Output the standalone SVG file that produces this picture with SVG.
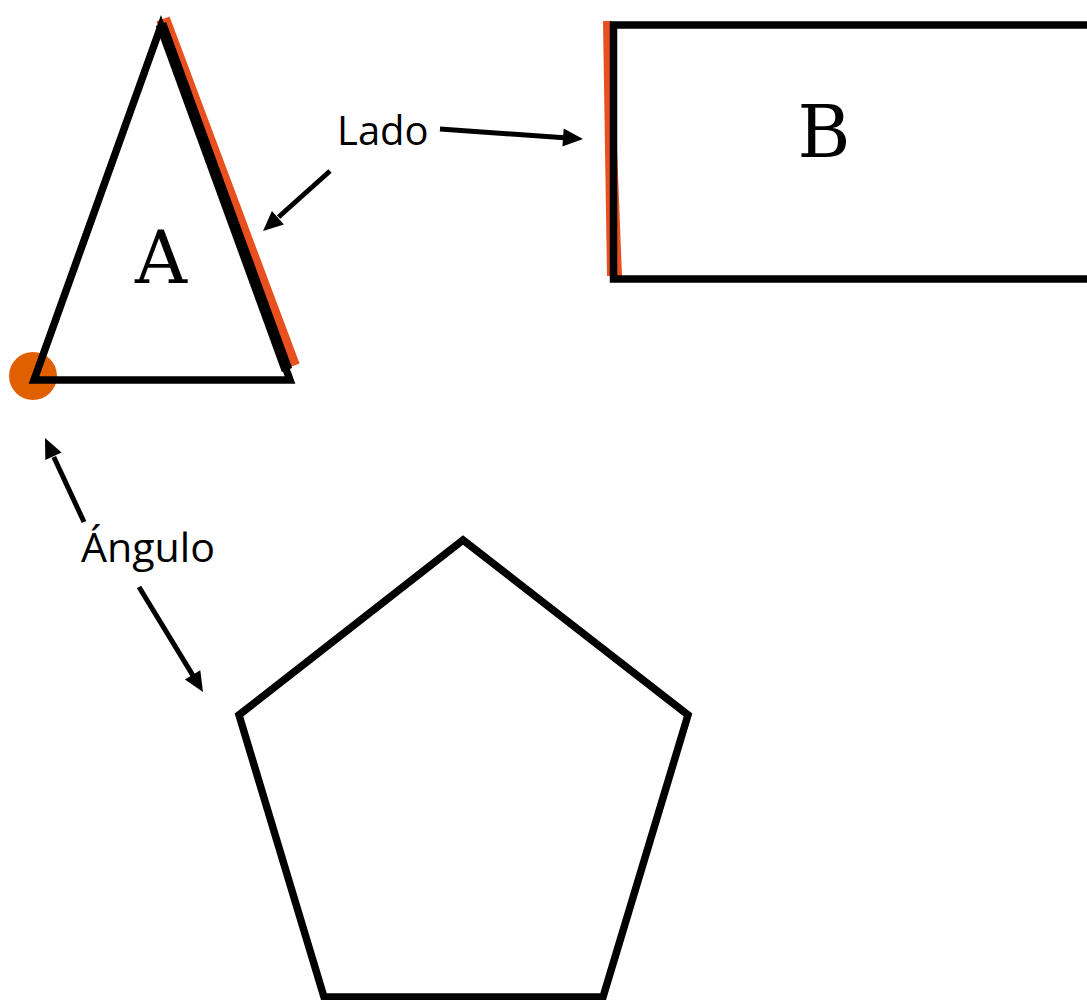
<svg xmlns="http://www.w3.org/2000/svg" width="1087" height="1000" viewBox="0 0 1087 1000">
<style>
.shape{fill:none;stroke:#000;stroke-width:7.5;stroke-linejoin:miter;stroke-miterlimit:10}
.serif{font-family:"DejaVu Serif","Liberation Serif",serif;font-size:72px;fill:#000}
.lbl{font-family:"Open Sans","Noto Sans",sans-serif;font-size:40px;fill:#000}
.conn{stroke:#000;stroke-width:5;fill:none}
.head{fill:#000}
</style>
<rect width="1087" height="1000" fill="#fff"/>
<g id="triangleA">
<line x1="163" y1="19" x2="293" y2="366" stroke="#E8501F" stroke-width="14"/>
<circle cx="33" cy="376" r="24" fill="#E06000"/>
<polygon class="shape" points="161,26 34,380 290,380"/>
<line x1="161" y1="24" x2="287" y2="370" stroke="#000" stroke-width="11"/>
<text class="serif" x="161" y="283" text-anchor="middle">A</text>
</g>
<g id="rectB">
<polygon points="603,21 612,21 622,276 607,276" fill="#E8501F"/>
<path class="shape" stroke-width="8" d="M1095,25 L613.5,25 L613.5,279 L1095,279"/>
<text class="serif" x="824" y="157" text-anchor="middle">B</text>
</g>
<g id="pentagon">
<polygon class="shape" stroke-width="6.5" points="463,540 688,715 603,997 324,997 239,715"/>
</g>
<g id="labels">
<text class="lbl" x="337" y="145">Lado</text>
<text class="lbl" x="81" y="562" textLength="134" lengthAdjust="spacingAndGlyphs">Ángulo</text>
</g>
<g id="connectors">
<line class="conn" x1="440" y1="129" x2="564" y2="137.7"/>
<polygon class="head" points="583,139 562.4,146.6 563.7,128.6"/>
<line class="conn" x1="330" y1="171" x2="278.6" y2="217"/>
<polygon class="head" points="263,231 271.9,211 283.9,224.4"/>
<line class="conn" x1="84" y1="522" x2="53.8" y2="457"/>
<polygon class="head" points="45,438 61.6,452.4 45.3,459.9"/>
<line class="conn" x1="139" y1="587" x2="193" y2="675.6"/>
<polygon class="head" points="203,692 184.9,679.6 200.3,670.2"/>
</g>
</svg>
